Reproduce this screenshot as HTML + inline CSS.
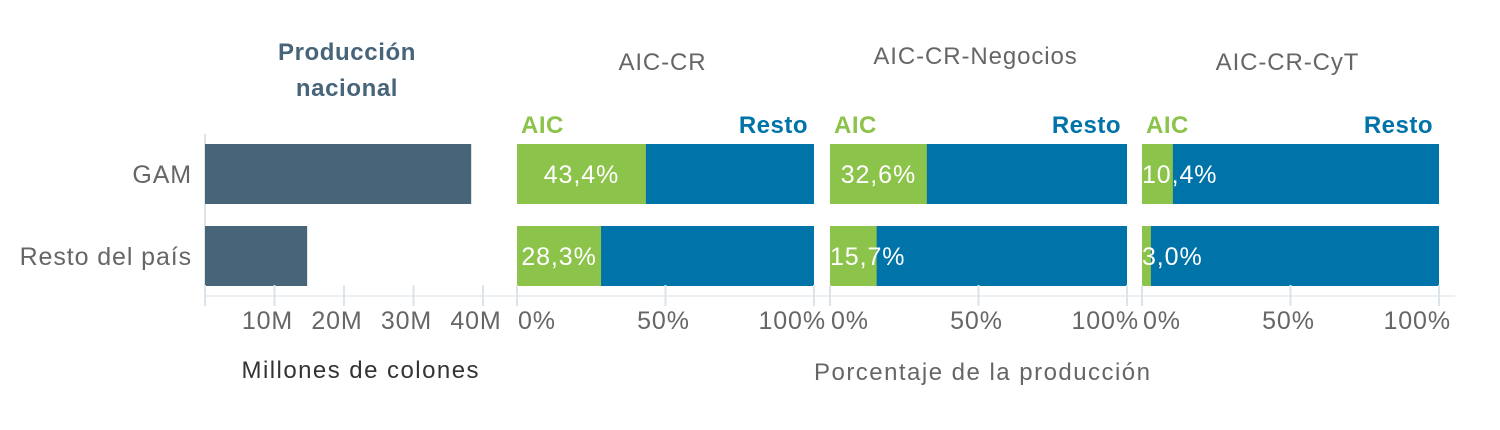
<!DOCTYPE html>
<html><head><meta charset="utf-8"><style>
body{margin:0;background:#fff;width:1500px;height:425px;overflow:hidden}
svg text{font-family:"Liberation Sans",sans-serif}
</style></head><body>
<svg id="chart" width="1500" height="425" xmlns="http://www.w3.org/2000/svg"></svg>
<script>
const regions = ["GAM", "Resto del país"];
const produccion = [38.3, 14.7];
const millionTicks = [10, 20, 30, 40];
const panelTitles = ["AIC-CR", "AIC-CR-Negocios", "AIC-CR-CyT"];
const aicShares = [[43.4, 28.3], [32.6, 15.7], [10.4, 3.0]];
const pctTicks = [0, 50, 100];

const svg = document.getElementById('chart');
const NS = 'http://www.w3.org/2000/svg';
function mk(tag, attrs, txt){const e=document.createElementNS(NS,tag);for(const k in attrs)e.setAttribute(k,attrs[k]);if(txt!==undefined)e.textContent=txt;svg.appendChild(e);return e;}
const rowY = [144, 226], barH = 60;
const xM = v => 205 + v * 6.95;
const panelX0 = [517, 830, 1142], panelW = 297;
const xP = (p, v) => panelX0[p] + v / 100 * panelW;
const LS = '0.9';

let e = mk('line',{x1:205,x2:1455,y1:296,y2:296,stroke:'#e6ecf0','stroke-width':1.5});


e = mk('line',{x1:205,x2:205,y1:134,y2:296,stroke:'#dde4ea','stroke-width':2});



e = mk('text',{x:347,y:60,'text-anchor':'middle','font-size':24,'font-weight':'bold',fill:'#476479','letter-spacing':0.6},'Producción');


e = mk('text',{x:347,y:96,'text-anchor':'middle','font-size':24,'font-weight':'bold',fill:'#476479','letter-spacing':0.6},'nacional');



regions.forEach((r,i)=>{
  let t = mk('text',{x:192,y:rowY[i]+barH/2+9,'text-anchor':'end','font-size':25,fill:'#666','letter-spacing':LS},r);
  
  
  let b = mk('rect',{x:xM(0),y:rowY[i],width:xM(produccion[i])-xM(0),height:barH,fill:'#476479'});
  
  
});
[0].concat(millionTicks).forEach(v=>{
  let l = mk('line',{x1:xM(v),x2:xM(v),y1:285,y2:306,stroke:'#dde4ea','stroke-width':2});
  
  
});
millionTicks.forEach(v=>{
  let t = mk('text',{x:xM(v)-7,y:329,'text-anchor':'middle','font-size':25,fill:'#666','letter-spacing':LS},v+'M');
  
  
});
e = mk('text',{x:360,y:378,'text-anchor':'middle','font-size':24,fill:'#333',textLength:237},'Millones de colones');



panelTitles.forEach((title,p)=>{
  let t = mk('text',{x:panelX0[p]+panelW/2-3,y:p===1?64:70,'text-anchor':'middle','font-size':24,fill:'#666','letter-spacing':LS},title);
  
  
  t = mk('text',{x:panelX0[p]+4,y:133,'font-size':24,'font-weight':'bold',fill:'#8cc34a','letter-spacing':0.5},'AIC');
  
  
  t = mk('text',{x:panelX0[p]+panelW-6,y:133,'text-anchor':'end','font-size':24,'font-weight':'bold',fill:'#0073a8','letter-spacing':0.5},'Resto');
  
  
  aicShares[p].forEach((v,i)=>{
    let r = mk('rect',{x:xP(p,0),y:rowY[i],width:panelW,height:barH,fill:'#0073a8'});
    
    
    r = mk('rect',{x:xP(p,0),y:rowY[i],width:xP(p,v)-xP(p,0),height:barH,fill:'#8cc34a'});
    
    
    const label = v.toFixed(1).replace('.',',')+'%';
    let tt = mk('text',{x:0,y:rowY[i]+barH/2+9,'text-anchor':'middle','font-size':25,fill:'#fff','letter-spacing':LS},label);
    const tw = tt.getComputedTextLength ? tt.getComputedTextLength() : 80;
    const cx = Math.max((xP(p,0)+xP(p,v))/2, xP(p,0)+tw/2);
    tt.setAttribute('x', cx);
    
    
  });
  pctTicks.forEach(v=>{
    let l = mk('line',{x1:xP(p,v),x2:xP(p,v),y1:285,y2:306,stroke:'#dde4ea','stroke-width':2});
    
    
    let anchor = v===0?'start':(v===100?'end':'middle');
    let x = v===0?xP(p,v)+1:(v===100?xP(p,v)+12:xP(p,v)-2);
    let t2 = mk('text',{x:x,y:329,'text-anchor':anchor,'font-size':25,fill:'#666','letter-spacing':LS},v+'%');
    
    
  });
});
e = mk('text',{x:982,y:380,'text-anchor':'middle','font-size':24,fill:'#666',textLength:336},'Porcentaje de la producción');


</script>
</body></html>
